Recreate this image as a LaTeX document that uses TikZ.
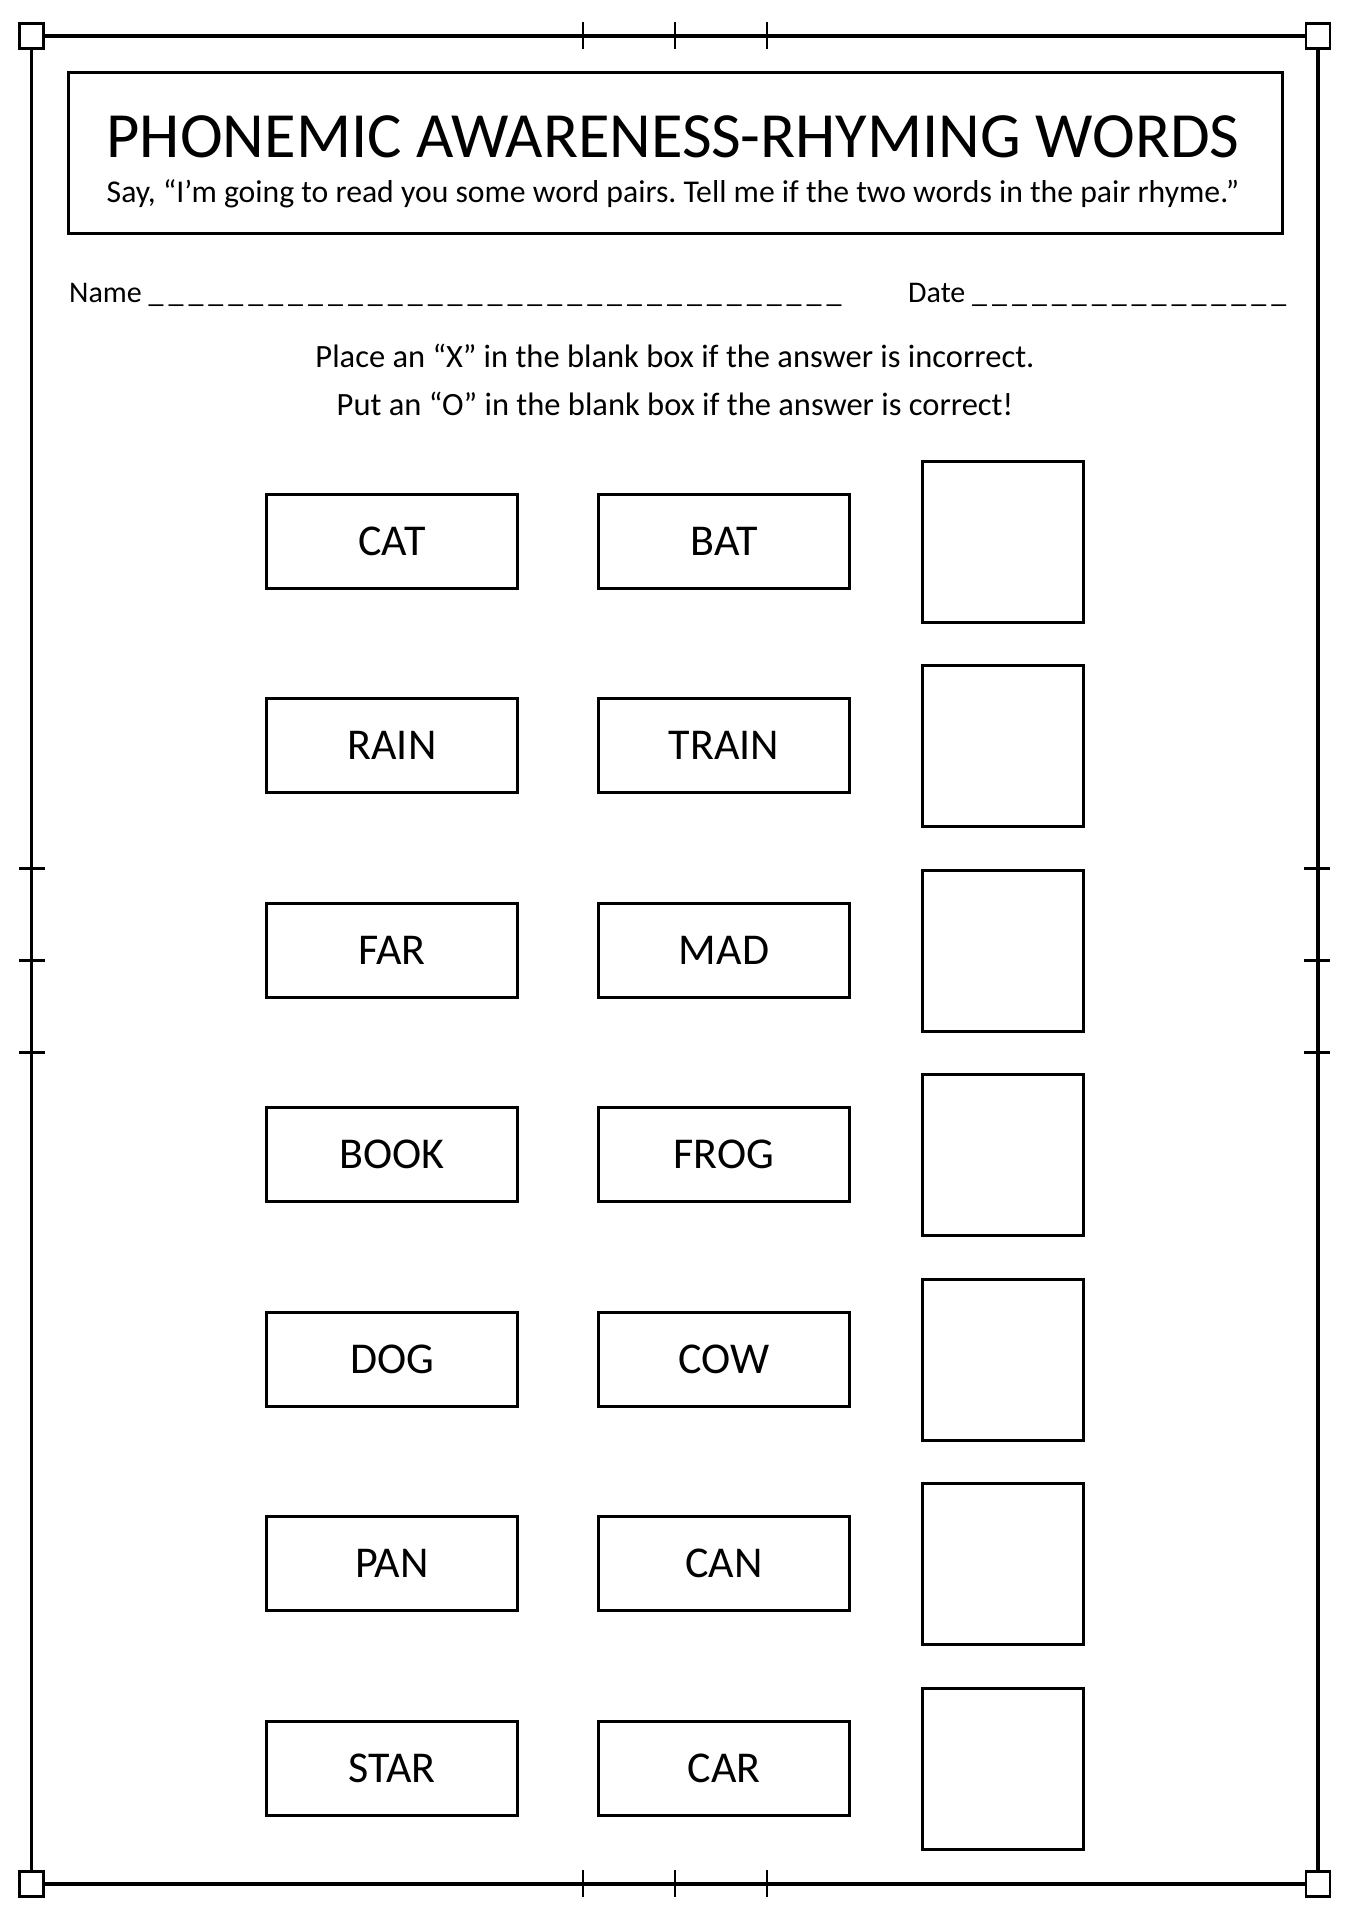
\documentclass[tikz,border=0pt]{standalone}
\usepackage{fontspec}
\setmainfont{Carlito}

\newcommand{\blanks}[1]{\foreach \i in {1,...,#1}{\_\hspace{5pt}}}

\begin{document}
\frenchspacing
\begin{tikzpicture}[
        x=1pt, y=-1pt,
        corner/.style={rectangle, draw, fill=white, line width=2.5pt, minimum width=24pt, minimum height=25pt, inner sep=0pt},
        frame/.style={line width=4pt},
        side/.style={line width=3.5pt},
        tick/.style={line width=2.5pt},
        word/.style={rectangle, draw, line width=2.8pt, minimum width=251pt, minimum height=94pt,
            inner sep=0pt, font=\fontsize{44}{50}\selectfont},
        blank/.style={rectangle, draw, line width=2.8pt, minimum width=161pt, minimum height=161pt, inner sep=0pt},
        instr/.style={anchor=base, font=\fontsize{32.5}{38}\selectfont},
    ]
        \useasboundingbox (0,0) rectangle (1350,1920);

        % page frame
        \node[corner] (nw) at (31.5,36) {};
        \node[corner] (ne) at (1318,36) {};
        \node[corner] (sw) at (31.5,1884) {};
        \node[corner] (se) at (1318,1884) {};
        \draw[frame] (nw) -- (ne);
        \draw[frame] (sw) -- (se);
        \draw[side] (nw) -- (sw);
        \draw[side] (ne) -- (se);
        \draw[tick] (583,22) -- (583,49) (675,22) -- (675,49) (767,22) -- (767,49);
        \draw[tick] (583,1870) -- (583,1897) (675,1870) -- (675,1897) (767,1870) -- (767,1897);
        \draw[line width=3pt] (19,868) -- (45,868) (19,960) -- (45,960) (19,1052) -- (45,1052);
        \draw[line width=3pt] (1304,868) -- (1330,868) (1304,960) -- (1330,960) (1304,1052) -- (1330,1052);

        % heading
        \node[draw, line width=3pt, minimum width=1214pt, minimum height=161pt] (header) at (675,152.5) {};
        \node[anchor=base, font=\fontsize{64.5}{72}\selectfont] (title) at (673,157) {PHONEMIC AWARENESS-RHYMING WORDS};
        \node[anchor=base, font=\fontsize{31.7}{38}\selectfont] (say) at (673,202) {Say, “I’m going to read you some word pairs. Tell me if the two words in the pair rhyme.”};

        \node[anchor=base west, font=\fontsize{30}{36}\selectfont, inner sep=0pt] (name) at (69,302) {Name \blanks{35}};
        \node[anchor=base west, font=\fontsize{30}{36}\selectfont, inner sep=0pt] (date) at (908,302) {Date \blanks{16}};

        \node[instr] (place) at (675,367) {Place an “X” in the blank box if the answer is incorrect.};
        \node[instr] (put) at (675,415) {Put an “O” in the blank box if the answer is correct!};

        % word pairs
        \node[word] (cat) at (392,541.2) {CAT};
        \node[word] (bat) at (724,541.2) {BAT};
        \node[blank] (ans1) at (1002.7,541.7) {};

        \node[word] (rain) at (392,745.7) {RAIN};
        \node[word] (train) at (724,745.7) {TRAIN};
        \node[blank] (ans2) at (1002.7,746.2) {};

        \node[word] (far) at (392,950.2) {FAR};
        \node[word] (mad) at (724,950.2) {MAD};
        \node[blank] (ans3) at (1002.7,950.7) {};

        \node[word] (book) at (392,1154.7) {BOOK};
        \node[word] (frog) at (724,1154.7) {FROG};
        \node[blank] (ans4) at (1002.7,1155.2) {};

        \node[word] (dog) at (392,1359.2) {DOG};
        \node[word] (cow) at (724,1359.2) {COW};
        \node[blank] (ans5) at (1002.7,1359.7) {};

        \node[word] (pan) at (392,1563.7) {PAN};
        \node[word] (can) at (724,1563.7) {CAN};
        \node[blank] (ans6) at (1002.7,1564.2) {};

        \node[word] (star) at (392,1768.2) {STAR};
        \node[word] (car) at (724,1768.2) {CAR};
        \node[blank] (ans7) at (1002.7,1768.7) {};
    \end{tikzpicture}
\end{document}
